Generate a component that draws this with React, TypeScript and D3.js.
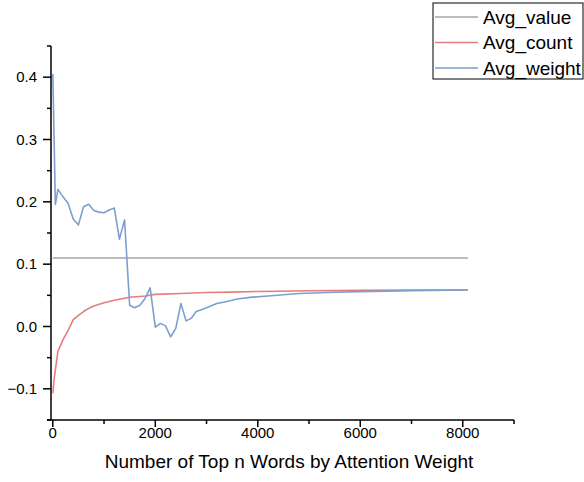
import React, { useEffect, useRef } from "react"
import * as d3 from "d3"

const width = 584
const height = 482

// x: number of top n words, y: averaged score
const valueN = [0, 8100]
const valueAvg = [0.11, 0.11]

const countN = [1, 25, 100, 200, 300, 400, 500, 600, 700, 800, 1000, 1200, 1500, 1800, 2000, 2500, 3000, 3500, 4000, 5000, 6000, 7000, 8100]
const countAvg = [-0.107, -0.085, -0.04, -0.021, -0.006, 0.011, 0.018, 0.024, 0.029, 0.033, 0.038, 0.042, 0.047, 0.049, 0.0515, 0.053, 0.0545, 0.0552, 0.0562, 0.0573, 0.058, 0.0583, 0.0585]

const weightN = [1, 50, 100, 200, 300, 400, 500, 600, 700, 800, 900, 1000, 1100, 1200, 1300, 1400, 1500, 1600, 1700, 1800, 1900, 2000, 2100, 2200, 2300, 2400, 2500, 2600, 2700, 2800, 2900, 3000, 3200, 3400, 3600, 3850, 4200, 4500, 4800, 5500, 6000, 7000, 8100]
const weightAvg = [0.405, 0.196, 0.22, 0.208, 0.1975, 0.172, 0.163, 0.192, 0.196, 0.186, 0.1835, 0.1825, 0.187, 0.19, 0.14, 0.171, 0.034, 0.03, 0.034, 0.045, 0.062, -0.001, 0.005, 0.001, -0.0165, -0.003, 0.037, 0.009, 0.013, 0.024, 0.027, 0.03, 0.037, 0.04, 0.044, 0.0467, 0.049, 0.051, 0.053, 0.055, 0.056, 0.0575, 0.0585]

const xMajor = [0, 2000, 4000, 6000, 8000]
const xMinor = [1000, 3000, 5000, 7000, 9000]
const yMajor = [-0.1, 0.0, 0.1, 0.2, 0.3, 0.4]
const yMinor = [-0.15, -0.05, 0.05, 0.15, 0.25, 0.35, 0.45]

const seriesNames = ["Avg_value", "Avg_count", "Avg_weight"]
const seriesColors = ["#a6a6a6", "#e57d7d", "#7d9fd0"]

const font = "'Liberation Sans', Arial, sans-serif"

const App = () => {
  const ref = useRef(null)

  useEffect(() => {
    const svg = d3.select(ref.current)
    svg.selectAll("*").remove()

    const x = d3.scaleLinear().domain([-35, 9000]).range([51, 514])
    const y = d3.scaleLinear().domain([-0.15, 0.45]).range([420, 46])

    const line = d3
      .line()
      .x((d) => x(d[0]))
      .y((d) => y(d[1]))

    const series = [
      d3.zip(valueN, valueAvg),
      d3.zip(countN, countAvg),
      d3.zip(weightN, weightAvg),
    ]

    // Lines
    series.forEach((s, i) => {
      svg
        .append("path")
        .datum(s)
        .attr("d", line)
        .attr("fill", "none")
        .attr("stroke", seriesColors[i])
        .attr("stroke-width", 1.6)
        .attr("stroke-linejoin", "round")
    })

    // Axes lines
    svg.append("line").attr("x1", 47).attr("x2", 514).attr("y1", 420).attr("y2", 420)
      .attr("stroke", "#000").attr("stroke-width", 1.5)
    svg.append("line").attr("x1", 51).attr("x2", 51).attr("y1", 46).attr("y2", 420)
      .attr("stroke", "#000").attr("stroke-width", 1.5)

    // x ticks
    svg.selectAll(".xmaj").data(xMajor).join("line")
      .attr("x1", (d) => x(d)).attr("x2", (d) => x(d))
      .attr("y1", 420).attr("y2", 427)
      .attr("stroke", "#000").attr("stroke-width", 1.5)
    svg.selectAll(".xmin").data(xMinor).join("line")
      .attr("x1", (d) => x(d)).attr("x2", (d) => x(d))
      .attr("y1", 420).attr("y2", 424)
      .attr("stroke", "#000").attr("stroke-width", 1.5)
    svg.selectAll(".xlab").data(xMajor).join("text")
      .attr("x", (d) => x(d)).attr("y", 438)
      .attr("text-anchor", "middle")
      .style("font-family", font).style("font-size", "15px")
      .text((d) => d)

    // y ticks
    svg.selectAll(".ymaj").data(yMajor).join("line")
      .attr("x1", 43).attr("x2", 51)
      .attr("y1", (d) => y(d)).attr("y2", (d) => y(d))
      .attr("stroke", "#000").attr("stroke-width", 1.5)
    svg.selectAll(".ymin").data(yMinor).join("line")
      .attr("x1", 47).attr("x2", 51)
      .attr("y1", (d) => y(d)).attr("y2", (d) => y(d))
      .attr("stroke", "#000").attr("stroke-width", 1.5)
    svg.selectAll(".ylab").data(yMajor).join("text")
      .attr("x", 37).attr("y", (d) => y(d) + 5)
      .attr("text-anchor", "end")
      .style("font-family", font).style("font-size", "15px")
      .text((d) => d3.format(".1f")(d))

    // Axis title
    svg.append("text")
      .attr("x", 289).attr("y", 468)
      .attr("text-anchor", "middle")
      .style("font-family", font).style("font-size", "19px")
      .text("Number of Top n Words by Attention Weight")

    // Legend
    svg.append("rect")
      .attr("x", 433).attr("y", 3).attr("width", 150).attr("height", 76)
      .attr("fill", "#fff").attr("stroke", "#000").attr("stroke-width", 1)
    const legendY = [17, 42.5, 68]
    seriesNames.forEach((name, i) => {
      svg.append("line")
        .attr("x1", 435).attr("x2", 478)
        .attr("y1", legendY[i]).attr("y2", legendY[i])
        .attr("stroke", seriesColors[i]).attr("stroke-width", 1.6)
      svg.append("text")
        .attr("x", 483).attr("y", legendY[i] + 6.5)
        .style("font-family", font).style("font-size", "19px")
        .text(name)
    })
  }, [])

  return (
    <svg
      ref={ref}
      width={width}
      height={height}
      style={{ position: "absolute", left: 0, top: 0, background: "#fff" }}
    ></svg>
  )
}

export default App
